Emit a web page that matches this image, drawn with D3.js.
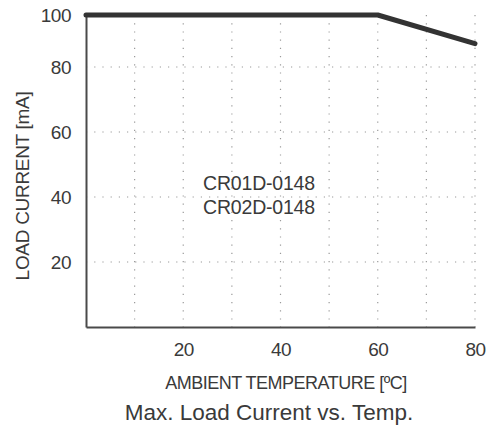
<!DOCTYPE html>
<html>
<head>
<meta charset="utf-8">
<script src="https://cdn.jsdelivr.net/npm/d3@7"></script>
<style>
  body { margin: 0; background: #fff; }
  text { font-family: "Liberation Sans", Arial, sans-serif; fill: #3a3a3a; }
</style>
</head>
<body>
<svg id="chart"></svg>
<script>
"use strict"

// derating curve
const temps = [0, 60, 80]
const currents = [100, 100, 89]

const xTicks = [20, 40, 60, 80]
const yTicks = [20, 40, 60, 80, 100]
const xGrid = [10, 20, 30, 40, 50, 60, 70, 80]
const yGrid = [20, 40, 60, 80]
const modelNames = ["CR01D-0148", "CR02D-0148"]

const width = 491, height = 427

const svg = d3.select("#chart")
    .attr("width", width)
    .attr("height", height)

const x = d3.scaleLinear().domain([0, 80]).range([86, 475])
// top label sits on the plot edge, so the top segment is squeezed a bit
const y = d3.scaleLinear().domain([0, 80, 100]).range([327, 67, 15])

// dotted grid
svg.append("g").selectAll("line")
    .data(xGrid)
  .enter().append("line")
    .attr("x1", d => x(d)).attr("x2", d => x(d))
    .attr("y1", y(100)).attr("y2", y(0))
    .attr("stroke", "#9a9a9a")
    .attr("stroke-width", 1.2)
    .attr("stroke-dasharray", "1.2,7")

svg.append("g").selectAll("line")
    .data(yGrid)
  .enter().append("line")
    .attr("x1", x(0)).attr("x2", x(80))
    .attr("y1", d => y(d)).attr("y2", d => y(d))
    .attr("stroke", "#9a9a9a")
    .attr("stroke-width", 1.2)
    .attr("stroke-dasharray", "1.2,7")

// axes
svg.append("g")
    .attr("transform", "translate(0," + y(0) + ")")
    .call(d3.axisBottom(x).tickValues(xTicks).tickSize(0).tickPadding(16))
svg.append("g")
    .attr("transform", "translate(" + x(0) + ",0)")
    .call(d3.axisLeft(y).tickValues(yTicks).tickSize(0).tickPadding(15))

svg.selectAll(".domain")
    .attr("stroke", "#4a4a4a")
    .attr("stroke-width", 2)
svg.selectAll(".tick text")
    .style("font-size", "19px")
    .style("letter-spacing", "-0.5px")
    .style("font-family", "'Liberation Sans', Arial, sans-serif")
    .attr("fill", "#3a3a3a")

// curve
const line = d3.line()
    .x((d, i) => x(temps[i]))
    .y(d => y(d))

svg.append("path")
    .datum(currents)
    .attr("d", line)
    .attr("fill", "none")
    .attr("stroke", "#333")
    .attr("stroke-width", 5)
    .attr("stroke-linecap", "round")
    .attr("stroke-linejoin", "round")

// model label
svg.append("g").selectAll("text")
    .data(modelNames)
  .enter().append("text")
    .attr("x", 259)
    .attr("y", (d, i) => 190 + i * 24)
    .attr("text-anchor", "middle")
    .style("font-size", "19.5px")
    .style("letter-spacing", "-0.2px")
    .text(d => d)

// axis titles
svg.append("text")
    .attr("transform", "translate(29,186) rotate(-90)")
    .attr("text-anchor", "middle")
    .style("font-size", "19px")
    .style("letter-spacing", "-0.3px")
    .text("LOAD CURRENT [mA]")

svg.append("text")
    .attr("x", 286)
    .attr("y", 389)
    .attr("text-anchor", "middle")
    .style("font-size", "18px")
    .style("letter-spacing", "-0.5px")
    .text("AMBIENT TEMPERATURE [ºC]")

svg.append("text")
    .attr("x", 269)
    .attr("y", 420)
    .attr("text-anchor", "middle")
    .style("font-size", "22.5px")
    .text("Max. Load Current vs. Temp.")
</script>
</body>
</html>
